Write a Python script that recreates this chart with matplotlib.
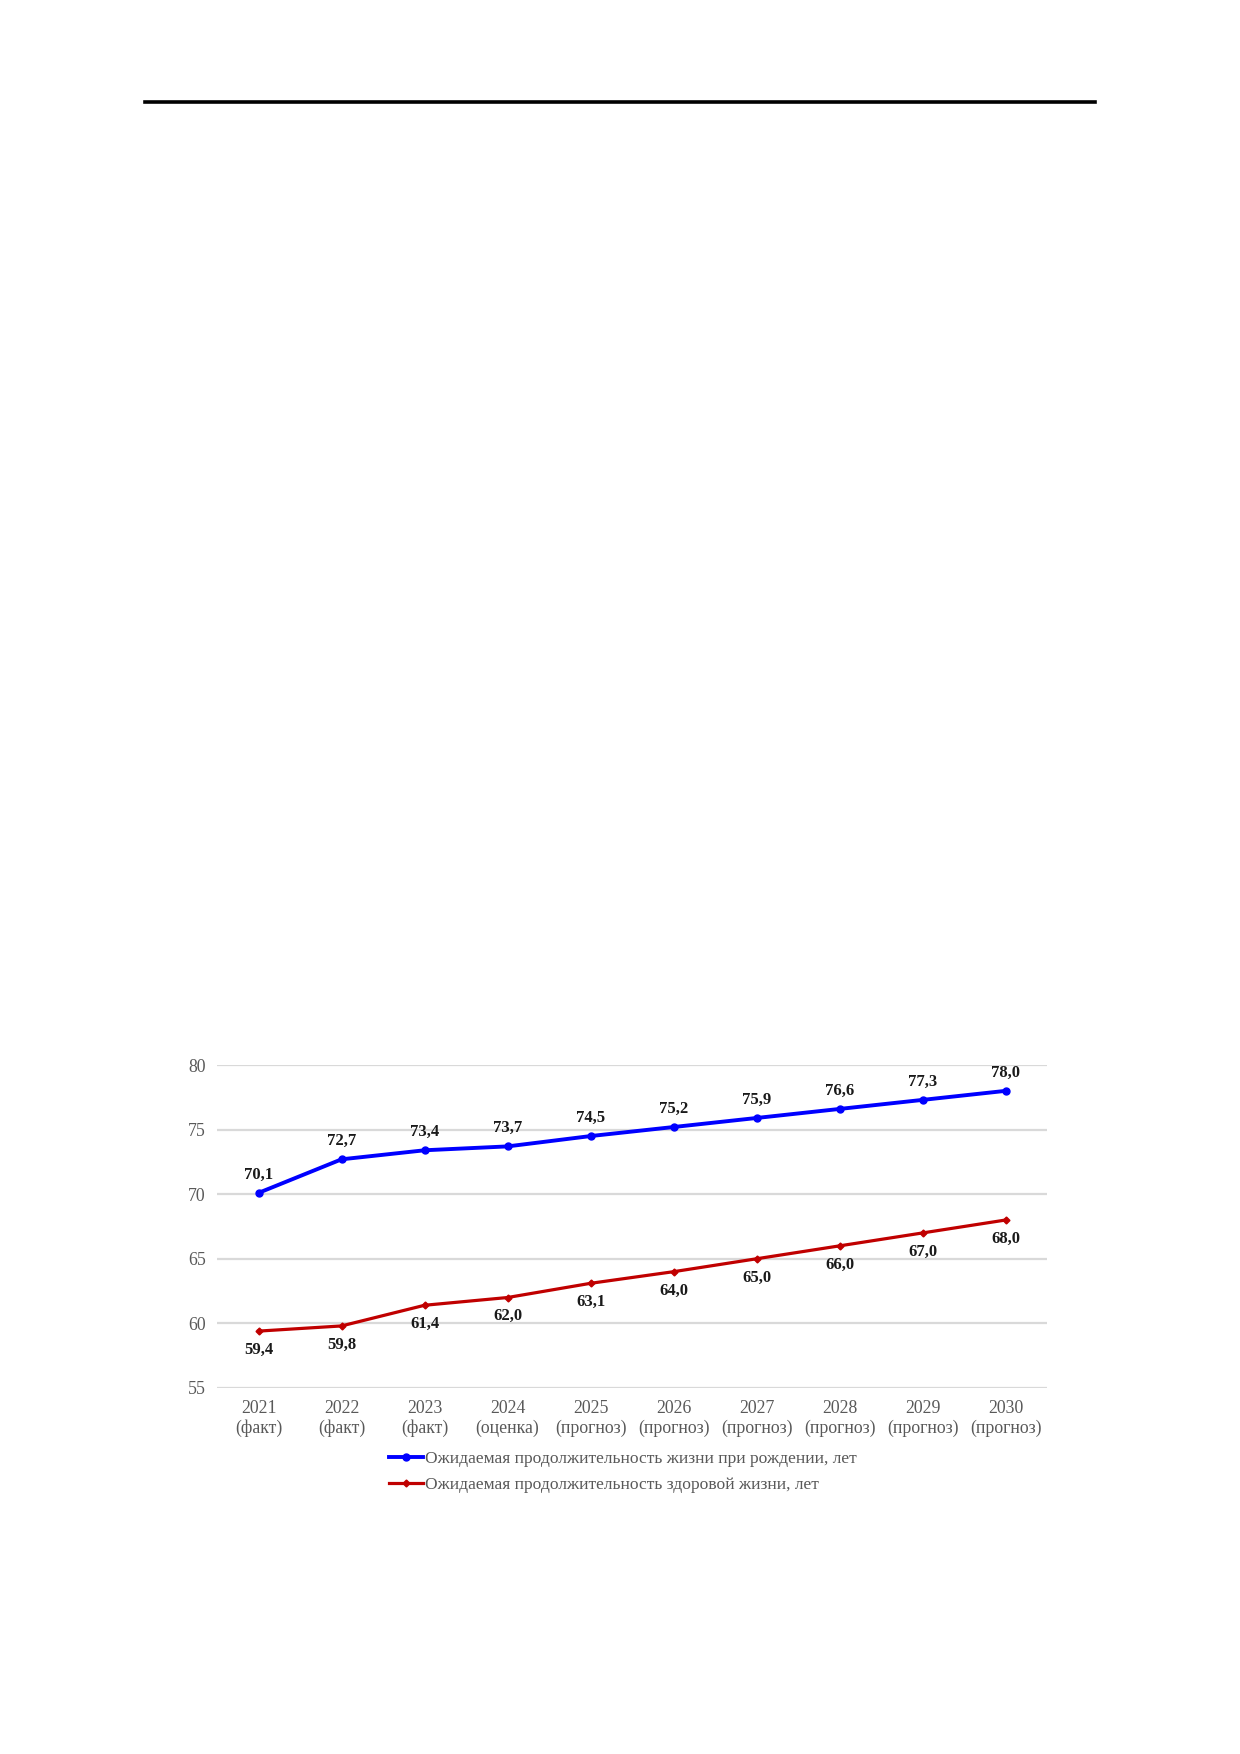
import matplotlib.pyplot as plt
from matplotlib.lines import Line2D

years = ["2021", "2022", "2023", "2024", "2025", "2026", "2027", "2028", "2029", "2030"]
status = ["(факт)", "(факт)", "(факт)", "(оценка)", "(прогноз)", "(прогноз)",
          "(прогноз)", "(прогноз)", "(прогноз)", "(прогноз)"]
life_total = [70.1, 72.7, 73.4, 73.7, 74.5, 75.2, 75.9, 76.6, 77.3, 78.0]
life_healthy = [59.4, 59.8, 61.4, 62.0, 63.1, 64.0, 65.0, 66.0, 67.0, 68.0]
name_total = "Ожидаемая продолжительность жизни при рождении, лет"
name_healthy = "Ожидаемая продолжительность здоровой жизни, лет"

plt.rcParams['font.family'] = ['Liberation Serif', 'DejaVu Serif']

fig = plt.figure(figsize=(12.4, 17.54), dpi=100)

# page header rule
fig.add_artist(Line2D([145 / 1240, 1095 / 1240], [1 - 102 / 1754] * 2,
                      color="black", lw=2.6))

ax = fig.add_axes([0.175, 0.2087, 0.6694, 0.1841])
x = list(range(len(years)))
ax.plot(x, life_total, color="#0000ff", lw=2.8, marker="o", ms=5, label=name_total)
ax.plot(x, life_healthy, color="#c00000", lw=2.3, marker="D", ms=3.5, label=name_healthy)

for i, v in enumerate(life_total):
    ax.annotate(f"{v:.1f}".replace(".", ","), (i, v), xytext=(0, 13),
                textcoords="offset points", ha="center", va="center",
                fontsize=12, fontweight="bold", color="#1a1a1a")
for i, v in enumerate(life_healthy):
    ax.annotate(f"{v:.1f}".replace(".", ","), (i, v), xytext=(0, -13.5),
                textcoords="offset points", ha="center", va="center",
                fontsize=12, fontweight="bold", color="#1a1a1a")

ax.set_xlim(-0.5, len(years) - 0.5)
ax.set_ylim(55, 80)
ax.set_yticks(range(55, 81, 5))
ax.set_xticks(x)
ax.set_xticklabels([f"{y}\n{s}" for y, s in zip(years, status)], linespacing=1.15)
ax.tick_params(length=0, labelsize=12.8, labelcolor="#595959", pad=9)
ax.tick_params(axis="y", pad=8)
ax.grid(axis="y", color="#d9d9d9", lw=1.6)
ax.set_axisbelow(True)
for s in ax.spines.values():
    s.set_visible(False)

fig.legend(loc="upper left", bbox_to_anchor=(389 / 1240, 1 - 1451 / 1754),
           frameon=False, fontsize=12.6, handlelength=1.95, handletextpad=0.1,
           labelspacing=0.55, labelcolor="#595959", borderaxespad=0, borderpad=0)

fig.savefig("out.png", dpi=100)
